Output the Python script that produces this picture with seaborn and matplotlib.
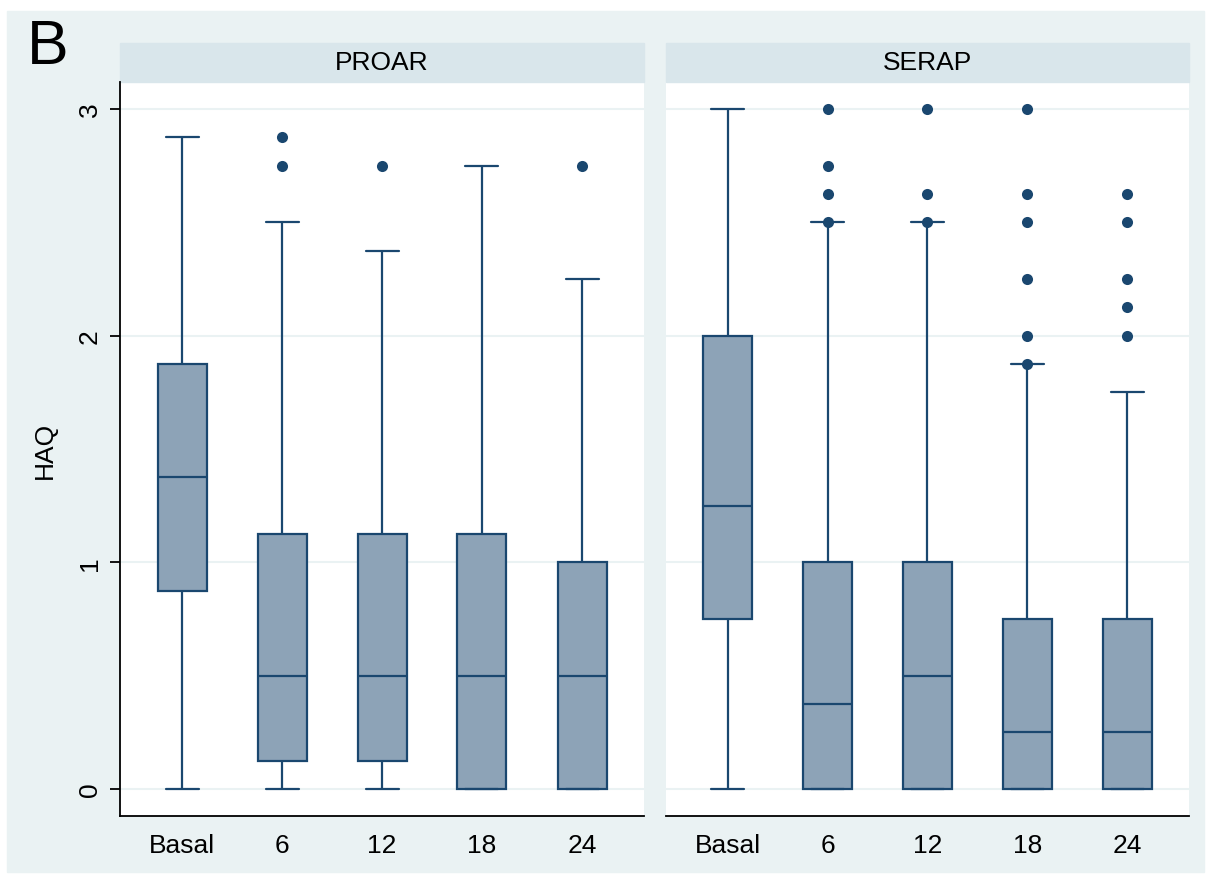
import pandas as pd
import matplotlib.pyplot as plt
import seaborn as sns
from matplotlib.patches import Rectangle

# HAQ by visit, one panel per programme
times = ['Basal', '6', '12', '18', '24']
panels = ['PROAR', 'SERAP']

proar_low = [0, 0, 0, 0, 0]
proar_q1 = [0.875, 0.125, 0.125, 0, 0]
proar_med = [1.375, 0.5, 0.5, 0.5, 0.5]
proar_q3 = [1.875, 1.125, 1.125, 1.125, 1.0]
proar_high = [2.875, 2.5, 2.375, 2.75, 2.25]
proar_out_time = ['6', '6', '12', '24']
proar_out_haq = [2.75, 2.875, 2.75, 2.75]

serap_low = [0, 0, 0, 0, 0]
serap_q1 = [0.75, 0, 0, 0, 0]
serap_med = [1.25, 0.375, 0.5, 0.25, 0.25]
serap_q3 = [2.0, 1.0, 1.0, 0.75, 0.75]
serap_high = [3.0, 2.5, 2.5, 1.875, 1.75]
serap_out_time = ['6', '6', '6', '6',
                  '12', '12', '12',
                  '18', '18', '18', '18', '18', '18',
                  '24', '24', '24', '24', '24']
serap_out_haq = [2.5, 2.625, 2.75, 3.0,
                 2.5, 2.625, 3.0,
                 1.875, 2.0, 2.25, 2.5, 2.625, 3.0,
                 2.0, 2.125, 2.25, 2.5, 2.625]

y_ticks = [0, 1, 2, 3]

# colours (Stata s2color look)
navy = '#1a476f'
box_fill = '#8da3b7'
bg = '#eaf2f3'
strip = '#d9e6eb'

sns.set_theme(style='white')
plt.rcParams['font.family'] = ['Liberation Sans', 'DejaVu Sans']
plt.rcParams['text.color'] = 'black'
plt.rcParams['axes.labelcolor'] = 'black'

stats = {
    'PROAR': (proar_low, proar_q1, proar_med, proar_q3, proar_high),
    'SERAP': (serap_low, serap_q1, serap_med, serap_q3, serap_high),
}
outs = {
    'PROAR': (proar_out_time, proar_out_haq),
    'SERAP': (serap_out_time, serap_out_haq),
}

fig = plt.figure(figsize=(12.11, 8.87), dpi=100)
fig.patch.set_facecolor('white')
fig.patches.append(Rectangle((7 / 1211, 14 / 887), 1197 / 1211, 861 / 887,
                             transform=fig.transFigure, color=bg, zorder=-10))

W, H = 1211, 887
axes_px = [(120, 644), (666, 1189)]
top, bottom = 83, 817
strip_h = 39

for name, (x0, x1) in zip(panels, axes_px):
    ax = fig.add_axes([x0 / W, (H - bottom) / H, (x1 - x0) / W, (bottom - top) / H])
    ax.set_facecolor('white')

    rows = []
    for i, t in enumerate(times):
        for s in stats[name]:
            rows.append({'time': t, 'HAQ': s[i]})
    df = pd.DataFrame(rows)
    sns.boxplot(data=df, x='time', y='HAQ', order=times, ax=ax,
                color=box_fill, saturation=1, linecolor=navy, linewidth=1.6,
                width=0.49, showfliers=False, capwidths=0.33)

    ot, oh = outs[name]
    odf = pd.DataFrame({'time': ot, 'HAQ': oh})
    sns.stripplot(data=odf, x='time', y='HAQ', order=times, ax=ax,
                  jitter=False, color=navy, size=8, zorder=5)

    ax.set_xlim(-0.62, 4.62)
    ax.set_ylim(-0.119, 3.119)
    ax.set_yticks(y_ticks)
    ax.set_axisbelow(True)
    ax.grid(axis='y', color=bg, linewidth=1.5)
    ax.grid(axis='x', visible=False)
    ax.set_xlabel('')
    ax.tick_params(axis='x', length=0, pad=12, labelsize=19, colors='black')

    for side in ['top', 'right']:
        ax.spines[side].set_visible(False)
    ax.spines['bottom'].set_color('black')
    ax.spines['bottom'].set_linewidth(1.3)

    if name == 'PROAR':
        ax.spines['left'].set_color('black')
        ax.spines['left'].set_linewidth(1.3)
        ax.tick_params(axis='y', length=7, width=1.3, pad=6, labelsize=19,
                       labelrotation=90, left=True, colors='black')
        for lab in ax.get_yticklabels():
            lab.set_va('center')
        ax.set_ylabel('HAQ', fontsize=19, labelpad=15)
    else:
        ax.spines['left'].set_visible(False)
        ax.set_yticks(y_ticks, labels=[])
        ax.tick_params(axis='y', length=0)
        ax.set_ylabel('')

    # panel header strip
    sh = strip_h / (bottom - top)
    ax.add_patch(Rectangle((0, 1), 1, sh, transform=ax.transAxes,
                           color=strip, clip_on=False))
    ax.text(0.5, 1 + sh / 2, name, transform=ax.transAxes, ha='center',
            va='center', fontsize=19)

fig.text(27 / W, 1 - 18 / H, 'B', fontsize=45, va='top', ha='left')

plt.savefig('out.png', dpi=100)
